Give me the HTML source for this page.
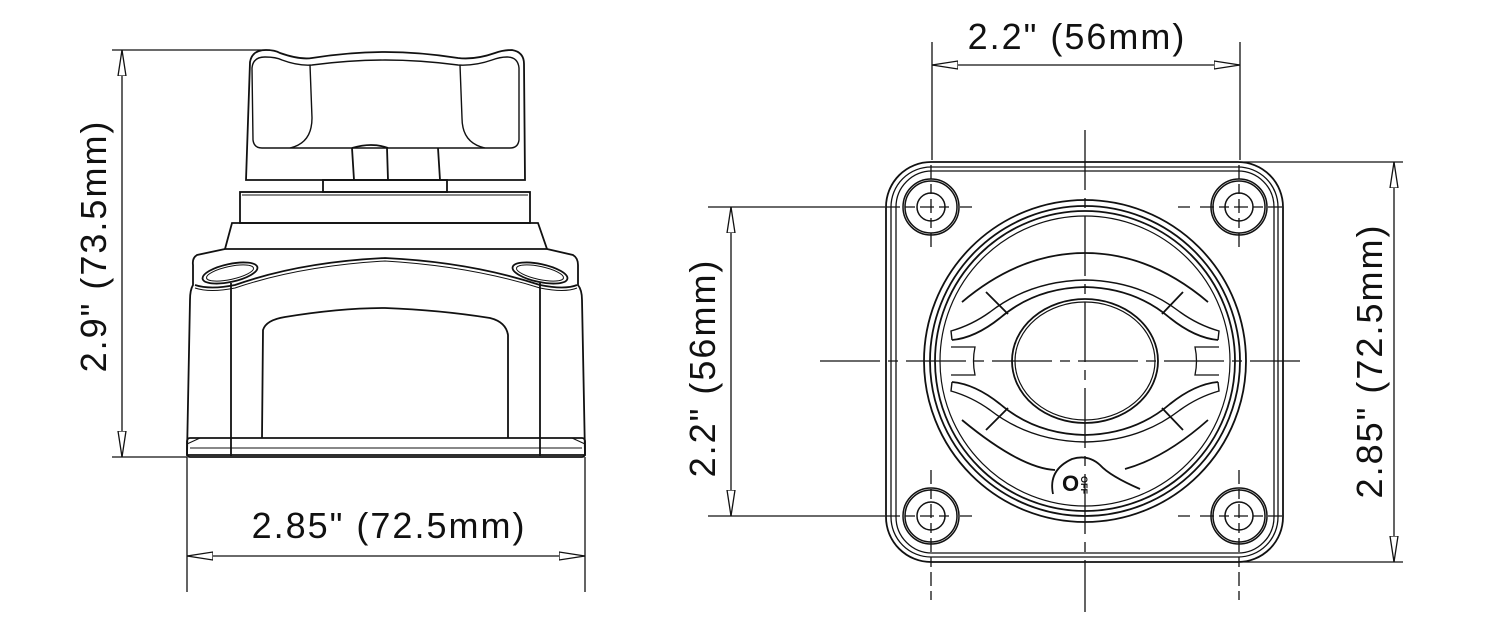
<!DOCTYPE html>
<html><head><meta charset="utf-8"><style>
html,body{margin:0;padding:0;background:#fff;}
svg{display:block}
text{font-family:"Liberation Sans",sans-serif;font-size:36px;fill:#111;letter-spacing:2px}
</style></head><body>
<svg width="1500" height="639" viewBox="0 0 1500 639" xmlns="http://www.w3.org/2000/svg">
<defs>
<marker id="a" viewBox="0 0 26 10" refX="26" refY="5" markerWidth="26" markerHeight="10" markerUnits="userSpaceOnUse" orient="auto-start-reverse">
<path d="M0,1 L26,5 L0,9 Z" fill="#fff" stroke="#111" stroke-width="1.3"/>
</marker>
</defs>
<g fill="none" stroke="#111" stroke-width="1.8">
<!-- LEFT VIEW dimension -->
<line x1="112" y1="50" x2="270" y2="50" stroke-width="1.3"/>
<line x1="112" y1="457" x2="187" y2="457" stroke-width="1.3"/>
<line x1="122" y1="50" x2="122" y2="457" marker-start="url(#a)" marker-end="url(#a)" stroke-width="1.3"/>
<line x1="187" y1="457" x2="187" y2="592" stroke-width="1.3"/>
<line x1="585" y1="457" x2="585" y2="592" stroke-width="1.3"/>
<line x1="187" y1="556" x2="585" y2="556" marker-start="url(#a)" marker-end="url(#a)" stroke-width="1.3"/>
<!-- knob -->
<path d="M246,180 L250,62 Q252,50 266,50 Q275,50 280,53 Q300,60 312,58 Q350,52 385,52 Q420,52 458,58 Q475,60 495,53 Q503,50 512,50 Q524,52 524,64 L525,180 Z"/>
<path d="M253,140 L252,68 Q253,57 265,57 Q276,57 282,60 Q298,66 312,65 Q350,60 385,60 Q420,60 458,65 Q475,66 492,60 Q500,57 507,57 Q518,57 519,68 L519,140 Q518,148 510,148 L262,148 Q254,148 253,140 Z" stroke-width="1.4"/>
<path d="M310,65 L312,118 Q312,143 290,148 M460,65 L462,118 Q462,143 485,148" stroke-width="1.4"/>
<path d="M352,148 L354,180 M387,148 L388,180 M438,148 L440,180 M352,148 Q372,142 388,148"/>
<rect x="323" y="180" width="124" height="12"/>
<rect x="240" y="192" width="290" height="31"/>
<line x1="242" y1="195" x2="528" y2="195" stroke-width="1"/>
<path d="M232,223 L538,223 L547,249 L225,249 Z"/>
<!-- body -->
<path d="M225,249 L197,255 Q192,258 193,265 L193,285 Q190,290 190,300 L187,455 L585,455 L582,300 Q582,290 578,285 L578,265 Q578,258 573,255 L547,249"/>
<path d="M195,285 Q210,290 235,285 Q300,262 385,258 Q470,262 540,285 Q565,290 577,285"/>
<path d="M195,288 Q210,293 235,288 Q300,266 385,261 Q470,266 540,288 Q565,293 577,288" stroke-width="1"/>
<ellipse cx="230" cy="273" rx="28" ry="9" transform="rotate(-12 230 273)"/>
<ellipse cx="230" cy="273" rx="24" ry="6.5" transform="rotate(-12 230 273)" stroke-width="1"/>
<ellipse cx="540" cy="273" rx="28" ry="9" transform="rotate(12 540 273)"/>
<ellipse cx="540" cy="273" rx="24" ry="6.5" transform="rotate(12 540 273)" stroke-width="1"/>
<line x1="231" y1="283" x2="231" y2="456"/>
<line x1="540" y1="283" x2="540" y2="456"/>
<path d="M262,438 L263,330 Q266,320 285,317 Q340,308 385,308 Q440,310 490,318 Q506,322 508,335 L508,438"/>
<rect x="187" y="438" width="398" height="19" rx="3"/>
<line x1="190" y1="448" x2="582" y2="448" stroke-width="1"/>
<line x1="187" y1="444" x2="200" y2="438" stroke-width="1"/>
<line x1="585" y1="444" x2="572" y2="438" stroke-width="1"/>

<!-- RIGHT VIEW dimensions -->
<line x1="932" y1="42" x2="932" y2="160" stroke-width="1.3"/>
<line x1="1240" y1="42" x2="1240" y2="160" stroke-width="1.3"/>
<line x1="932" y1="65" x2="1240" y2="65" marker-start="url(#a)" marker-end="url(#a)" stroke-width="1.3"/>
<line x1="708" y1="207" x2="885" y2="207" stroke-width="1.3"/>
<line x1="708" y1="516" x2="885" y2="516" stroke-width="1.3"/>
<line x1="731" y1="207" x2="731" y2="516" marker-start="url(#a)" marker-end="url(#a)" stroke-width="1.3"/>
<line x1="1240" y1="162" x2="1403" y2="162" stroke-width="1.3"/>
<line x1="1240" y1="562" x2="1403" y2="562" stroke-width="1.3"/>
<line x1="1394" y1="162" x2="1394" y2="562" marker-start="url(#a)" marker-end="url(#a)" stroke-width="1.3"/>
<!-- plate -->
<rect x="886" y="162" width="397" height="400" rx="45"/>
<rect x="891" y="167" width="387" height="390" rx="40" stroke-width="1.3"/>
<rect x="896" y="171" width="378" height="382" rx="36" stroke-width="1.3"/>
<!-- holes -->
<g stroke-width="1.5">
<circle cx="931" cy="207" r="28"/><circle cx="931" cy="207" r="26"/><circle cx="931" cy="207" r="14"/>
<circle cx="1239" cy="207" r="28"/><circle cx="1239" cy="207" r="26"/><circle cx="1239" cy="207" r="14"/>
<circle cx="931" cy="516" r="28"/><circle cx="931" cy="516" r="26"/><circle cx="931" cy="516" r="14"/>
<circle cx="1239" cy="516" r="28"/><circle cx="1239" cy="516" r="26"/><circle cx="1239" cy="516" r="14"/>
</g>
<!-- center lines -->
<g stroke-width="1.3">
<line x1="1085" y1="130" x2="1085" y2="612" stroke-dasharray="60,8,10,8"/>
<line x1="820" y1="361" x2="1300" y2="361" stroke-dasharray="60,8,10,8"/>
<path d="M886,207 H950 M960,207 H972 M931,165 V250 M1178,207 H1190 M1200,207 H1283 M1239,165 V250 M886,516 H950 M960,516 H972 M931,470 V600 M1178,516 H1190 M1200,516 H1283 M1239,470 V600" stroke-dasharray="14,5,10,5"/>
</g>
<!-- dial -->
<circle cx="1085" cy="361" r="161"/>
<circle cx="1085" cy="361" r="155"/>
<circle cx="1085" cy="361" r="150"/>
<circle cx="1085" cy="361" r="145" stroke-width="1.2"/>
<ellipse cx="1085" cy="361" rx="73" ry="62"/>
<ellipse cx="1085" cy="361" rx="70" ry="59" stroke-width="1.2"/>
<!-- upper wing -->
<path d="M952,340 Q975,338 1000,318 Q1035,288 1085,287 Q1135,288 1170,318 Q1195,338 1218,340"/>
<path d="M952,340 L951,331 Q972,325 990,312 Q1030,281 1085,280 Q1140,281 1180,312 Q1198,325 1219,331 L1218,340" stroke-width="1.4"/>
<path d="M962,302 Q1020,253 1085,253 Q1150,253 1208,302"/>
<!-- lower wing -->
<path d="M952,382 Q975,384 1000,404 Q1035,434 1085,435 Q1135,434 1170,404 Q1195,384 1218,382"/>
<path d="M952,382 L951,391 Q972,397 990,410 Q1030,441 1085,442 Q1140,441 1180,410 Q1198,397 1219,391 L1218,382" stroke-width="1.4"/>
<path d="M962,420 Q1020,468 1055,470"/>
<path d="M1125,469 Q1165,458 1208,420"/>
<path d="M986,292 L1008,314 M1183,292 L1162,314 M986,430 L1008,408 M1183,430 L1162,408"/>
<path d="M951,347 L975,347 Q972,361 975,375 L951,375 M1219,347 L1195,347 Q1198,361 1195,375 L1219,375" stroke-width="1.3"/>
<path d="M1053,494 Q1048,470 1072,459 Q1088,454 1100,465 Q1110,476 1140,489"/>
</g>
<text x="1062" y="491" style="font-size:22px;font-weight:bold;letter-spacing:0">O</text>
<text x="0" y="0" transform="translate(1081,476) rotate(90)" style="font-size:9px;font-weight:bold;letter-spacing:0">OFF</text>
<!-- labels -->
<text x="1077" y="49" text-anchor="middle">2.2" (56mm)</text>
<text x="389" y="538" text-anchor="middle">2.85" (72.5mm)</text>
<text transform="translate(106,246) rotate(-90)" text-anchor="middle">2.9" (73.5mm)</text>
<text transform="translate(715,368) rotate(-90)" text-anchor="middle">2.2" (56mm)</text>
<text transform="translate(1382,361) rotate(-90)" text-anchor="middle">2.85" (72.5mm)</text>
</svg>
</body></html>
